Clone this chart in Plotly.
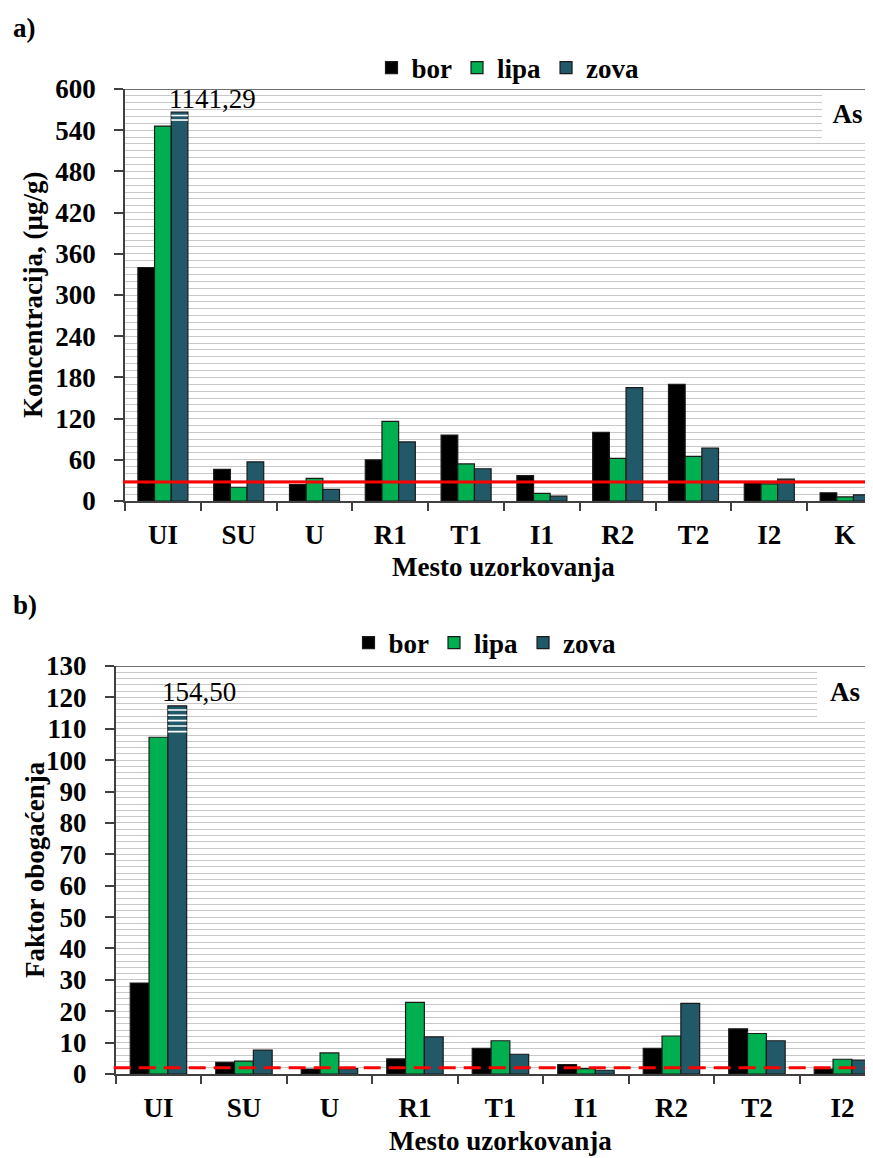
import plotly.graph_objects as go

# page has an 8 px body margin: figure is placed at (8, 8) in the 873x1158 window
VIEW_W, VIEW_H = 873, 1158
OFF = 8
W, H = VIEW_W - OFF, VIEW_H - OFF

# ---------------- data ----------------
series = ["bor", "lipa", "zova"]
colors = {"bor": "#000000", "lipa": "#00B050", "zova": "#215968"}

cats_a = ["UI", "SU", "U", "R1", "T1", "I1", "R2", "T2", "I2", "K"]
bor_a = [340, 46, 24, 60, 96, 37, 100, 170, 27, 12]
lipa_a = [546, 20, 33, 116, 54, 11, 62, 65, 25, 6]
zova_a = [1141.29, 57, 17, 86, 47, 7, 165, 77, 32, 9]
cap_a = 566.5                 # axis break: drawn height of off-scale bar
breaks_a = [561.4, 554.8]     # break stripes on off-scale bar
ref_a = 27.7                  # reference level (solid red line)

cats_b = ["UI", "SU", "U", "R1", "T1", "I1", "R2", "T2", "I2"]
bor_b = [29, 3.7, 1.6, 4.8, 8.2, 3.0, 8.2, 14.4, 1.6]
lipa_b = [107.3, 4.1, 6.7, 22.8, 10.6, 1.7, 12.1, 12.9, 4.7]
zova_b = [154.50, 7.6, 1.7, 11.8, 6.3, 1.2, 22.5, 10.6, 4.4]
cap_b = 117.3
breaks_b = [116.0, 114.3, 112.6, 110.9, 109.1]
ref_b = 2.0                   # reference level (dashed red line)

data_a = {"bor": bor_a, "lipa": lipa_a, "zova": zova_a}
data_b = {"bor": bor_b, "lipa": lipa_b, "zova": zova_b}

FONT = "Liberation Serif"
AX = "#404040"
GRID = "#c8c8c8"
FS = 27

def px_x(p):
    return (p - OFF) / W

def px_y(p):
    return 1 - (p - OFF) / H

fig = go.Figure()

for s in series:
    fig.add_trace(go.Bar(
        x=cats_a, y=[min(v, cap_a) for v in data_a[s]], name=s,
        marker=dict(color=colors[s], line=dict(color="#1a1a1a", width=1.2)),
        xaxis="x", yaxis="y", legend="legend", showlegend=True))
for s in series:
    fig.add_trace(go.Bar(
        x=cats_b, y=[min(v, cap_b) for v in data_b[s]], name=s,
        marker=dict(color=colors[s], line=dict(color="#1a1a1a", width=1.2)),
        xaxis="x2", yaxis="y2", legend="legend2", showlegend=True))

# plot area geometry (window pixels)
a_left, a_top, a_bot, a_cat = 125, 89, 501, 75.8
b_left, b_top, b_bot, b_cat = 115.7, 666, 1074, 85.5

tickfont = dict(family=FONT, size=FS, color="black", weight="bold")

def xaxis_cfg(left, cat, anchor):
    return dict(domain=[px_x(left), 1], anchor=anchor, type="category",
                range=[-0.5, -0.5 + (VIEW_W - left) / cat], automargin=False,
                showline=True, linecolor=AX, linewidth=1.5,
                ticks="outside", tickson="boundaries", ticklen=8,
                tickcolor=AX, tickwidth=1.5, showgrid=False,
                tickfont=tickfont, ticklabelstandoff=9, zeroline=False)

def yaxis_cfg(top, bot, rng, dtick, minor, anchor):
    return dict(domain=[px_y(bot), px_y(top)], anchor=anchor, range=rng,
                automargin=False,
                dtick=dtick, tick0=0, showline=True, linecolor=AX, linewidth=1.5,
                ticks="outside", ticklen=9, tickcolor=AX, tickwidth=1.5,
                showgrid=True, gridcolor=GRID, gridwidth=1.3,
                minor=dict(dtick=minor, showgrid=True, gridcolor=GRID,
                           gridwidth=1.3, ticks=""),
                tickfont=tickfont, ticklabelstandoff=13, zeroline=False)

fig.update_layout(
    template="none",
    width=W, height=H,
    margin=dict(l=0, r=0, t=0, b=0, autoexpand=False),
    paper_bgcolor="white", plot_bgcolor="white",
    barmode="group", bargap=0.34, bargroupgap=0,
    xaxis=xaxis_cfg(a_left, a_cat, "y"),
    yaxis=yaxis_cfg(a_top, a_bot, [0, 600], 60, 10, "x"),
    xaxis2=xaxis_cfg(b_left, b_cat, "y2"),
    yaxis2=yaxis_cfg(b_top, b_bot, [0, 130], 10, 2, "x2"),
    legend=dict(orientation="h", x=px_x(508), xanchor="center",
                y=px_y(68), yanchor="middle",
                font=dict(family=FONT, size=FS, color="black", weight="bold"),
                itemwidth=30, tracegroupgap=0, bgcolor="rgba(0,0,0,0)"),
    legend2=dict(orientation="h", x=px_x(485), xanchor="center",
                 y=px_y(643), yanchor="middle",
                 font=dict(family=FONT, size=FS, color="black", weight="bold"),
                 itemwidth=30, tracegroupgap=0, bgcolor="rgba(0,0,0,0)"),
    showlegend=True,
)

shapes = []
# top frame lines
shapes.append(dict(type="line", xref="paper", yref="y", x0=px_x(a_left), x1=1,
                   y0=600, y1=600, line=dict(color=AX, width=1.5)))
shapes.append(dict(type="line", xref="paper", yref="y2", x0=px_x(b_left), x1=1,
                   y0=130, y1=130, line=dict(color=AX, width=1.5)))
# reference lines
shapes.append(dict(type="line", xref="paper", yref="y", x0=px_x(a_left - 2), x1=1,
                   y0=ref_a, y1=ref_a, line=dict(color="#ff0000", width=3)))
shapes.append(dict(type="line", xref="paper", yref="y2", x0=px_x(b_left - 2), x1=1,
                   y0=ref_b, y1=ref_b,
                   line=dict(color="#ff0000", width=3, dash="17px,8px")))
# axis break stripes on the off-scale zova bar (group width 0.66, 3 bars)
bw = 0.66 / 3
for v in breaks_a:
    shapes.append(dict(type="line", xref="x", yref="y", x0=bw / 2, x1=1.5 * bw,
                       y0=v, y1=v, line=dict(color="white", width=1.6)))
for v in breaks_b:
    shapes.append(dict(type="line", xref="x2", yref="y2", x0=bw / 2, x1=1.5 * bw,
                       y0=v, y1=v, line=dict(color="white", width=1.6)))
fig.update_layout(shapes=shapes)

def fmt(v):
    return f"{v:.2f}".replace(".", ",")

bold = dict(family=FONT, size=FS, color="black", weight="bold")
ann = [
    dict(text="a)", xref="paper", yref="paper", x=px_x(11), y=px_y(28),
         xanchor="left", yanchor="middle", showarrow=False, font=bold),
    dict(text="b)", xref="paper", yref="paper", x=px_x(11), y=px_y(605),
         xanchor="left", yanchor="middle", showarrow=False, font=bold),
    # As boxes
    dict(text="As", xref="paper", yref="paper", x=1, y=px_y(a_top + 1),
         xanchor="right", yanchor="top", width=51, height=48, bgcolor="white",
         borderpad=0, borderwidth=0, showarrow=False, font=bold),
    dict(text="As", xref="paper", yref="paper", x=1, y=px_y(b_top + 1),
         xanchor="right", yanchor="top", width=56, height=50, bgcolor="white",
         borderpad=0, borderwidth=0, showarrow=False, font=bold),
    # off-scale values
    dict(text=fmt(zova_a[0]), xref="x", yref="y", x=0, y=cap_a,
         xshift=50, yshift=13, xanchor="center", yanchor="middle", showarrow=False,
         font=dict(family=FONT, size=FS, color="black")),
    dict(text=fmt(zova_b[0]), xref="x2", yref="y2", x=0, y=cap_b,
         xshift=40.5, yshift=14, xanchor="center", yanchor="middle", showarrow=False,
         font=dict(family=FONT, size=FS, color="black")),
    # axis titles
    dict(text="Koncentracija, (µg/g)", xref="paper", yref="paper",
         x=px_x(33), y=px_y((a_top + a_bot) / 2), textangle=-90,
         xanchor="center", yanchor="middle", showarrow=False, font=bold),
    dict(text="Faktor obogaćenja", xref="paper", yref="paper",
         x=px_x(35), y=px_y((b_top + b_bot) / 2), textangle=-90,
         xanchor="center", yanchor="middle", showarrow=False, font=bold),
    dict(text="Mesto uzorkovanja", xref="paper", yref="paper",
         x=px_x(503), y=px_y(567), xanchor="center", yanchor="middle",
         showarrow=False, font=bold),
    dict(text="Mesto uzorkovanja", xref="paper", yref="paper",
         x=px_x(500), y=px_y(1141), xanchor="center", yanchor="middle",
         showarrow=False, font=bold),
]
fig.update_layout(annotations=ann)

fig.write_html("out.html")
